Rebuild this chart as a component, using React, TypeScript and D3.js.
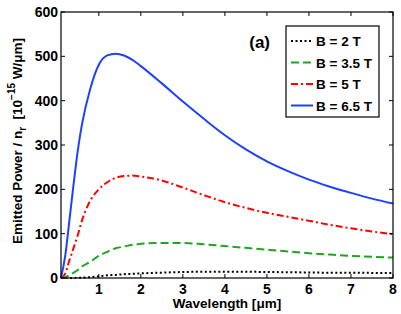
import React, { useEffect, useRef } from "react";
import * as d3 from "d3";

// wavelength grid [um]
const wavelength = [
  0.1, 0.2, 0.3, 0.4, 0.5, 0.6, 0.8, 1.0, 1.2, 1.4, 1.6, 1.8, 2.0, 2.5, 3.0,
  3.5, 4.0, 4.5, 5.0, 5.5, 6.0, 6.5, 7.0, 7.5, 8.0,
];

// emitted power / n_r [1e-15 W/um]
const power2T = [
  0, 0, 0, 0.2, 0.5, 1, 2, 4, 6, 7, 8.5, 9.5, 10.5, 12, 13.5, 14, 14, 14,
  13.5, 13, 12.5, 12, 12, 11.5, 11,
];
const power35T = [
  0, 2, 6, 12, 18, 26, 37, 50, 59, 67, 71, 75, 77, 79, 79, 76, 72, 68, 64, 60,
  56, 53, 50, 48, 46,
];
const power5T = [
  0, 10, 40, 68, 97, 130, 175, 200, 216, 226, 230, 231, 229, 220, 204, 187,
  171, 158, 147, 138, 129, 120, 112, 105, 99,
];
const power65T = [
  0, 50, 130, 212, 288, 347, 428, 481, 502, 506, 502, 492, 478, 439, 398, 359,
  322, 290, 263, 241, 222, 206, 192, 179, 168,
];

const seriesNames = ["B = 2 T", "B = 3.5 T", "B = 5 T", "B = 6.5 T"];
const seriesValues = [power2T, power35T, power5T, power65T];
const seriesColors = ["#000000", "#1fa51f", "#ff0000", "#2040ff"];
const seriesDash = ["2,2.5", "8,4", "7,3,2,3", null];

const xTicks = [1, 2, 3, 4, 5, 6, 7, 8];
const yTicks = [0, 100, 200, 300, 400, 500, 600];

const W = 401;
const H = 314;
const FONT = "'Liberation Sans', Arial, Helvetica, sans-serif";

export default function App() {
  const svgRef = useRef<SVGSVGElement>(null);

  useEffect(() => {
    const svg = d3.select(svgRef.current);
    svg.selectAll("*").remove();

    const left = 61, right = 393, top = 12, bottom = 278;

    const x = d3.scaleLinear().domain([0.1, 8]).range([left, right]);
    const y = d3.scaleLinear().domain([0, 600]).range([bottom, top]);

    svg.append("rect").attr("width", W).attr("height", H).attr("fill", "#fff");

    // curves
    const line = d3
      .line<number>()
      .x((_, i) => x(wavelength[i]))
      .y((d) => y(d))
      .curve(d3.curveMonotoneX);

    seriesValues.forEach((vals, k) => {
      const p = svg
        .append("path")
        .attr("d", line(vals) || "")
        .attr("fill", "none")
        .attr("stroke", seriesColors[k])
        .attr("stroke-width", 2);
      if (seriesDash[k]) p.attr("stroke-dasharray", seriesDash[k] as string);
    });

    // frame with inward ticks
    svg
      .append("rect")
      .attr("x", left)
      .attr("y", top)
      .attr("width", right - left)
      .attr("height", bottom - top)
      .attr("fill", "none")
      .attr("stroke", "#000")
      .attr("stroke-width", 1.2);

    const tickLen = 4;
    xTicks.forEach((t) => {
      const px = x(t);
      svg.append("line").attr("x1", px).attr("x2", px).attr("y1", bottom).attr("y2", bottom - tickLen).attr("stroke", "#000");
      svg.append("line").attr("x1", px).attr("x2", px).attr("y1", top).attr("y2", top + tickLen).attr("stroke", "#000");
      svg
        .append("text")
        .attr("x", px)
        .attr("y", bottom + 16)
        .attr("text-anchor", "middle")
        .attr("font-family", FONT)
        .attr("font-weight", "bold")
        .attr("font-size", 14)
        .text(t);
    });
    yTicks.forEach((t) => {
      const py = y(t);
      svg.append("line").attr("x1", left).attr("x2", left + tickLen).attr("y1", py).attr("y2", py).attr("stroke", "#000");
      svg.append("line").attr("x1", right).attr("x2", right - tickLen).attr("y1", py).attr("y2", py).attr("stroke", "#000");
      svg
        .append("text")
        .attr("x", left - 3)
        .attr("y", py + 5)
        .attr("text-anchor", "end")
        .attr("font-family", FONT)
        .attr("font-weight", "bold")
        .attr("font-size", 14)
        .text(t);
    });

    // axis labels
    const xl = svg
      .append("text")
      .attr("x", (left + right) / 2)
      .attr("y", 308)
      .attr("text-anchor", "middle")
      .attr("font-family", FONT)
      .attr("font-weight", "bold")
      .attr("font-size", 13.5);
    xl.append("tspan").text("Wavelength [");
    xl.append("tspan").text("\u03bc");
    xl.append("tspan").text("m]");

    const yl = svg
      .append("text")
      .attr("transform", `translate(22,141) rotate(-90)`)
      .attr("text-anchor", "middle")
      .attr("font-family", FONT)
      .attr("font-weight", "bold")
      .attr("font-size", 13.5)
      .style("white-space", "pre");
    yl.append("tspan").text("Emitted Power / n");
    yl.append("tspan").attr("font-size", 10).attr("dy", 4).text("r");
    yl.append("tspan").attr("dy", -4).text("  [10");
    yl.append("tspan").attr("font-size", 10).attr("dy", -7).text("\u221215");
    yl.append("tspan").attr("dy", 7).text(" W/\u03bcm]");

    // panel label
    svg
      .append("text")
      .attr("x", 270)
      .attr("y", 48)
      .attr("text-anchor", "end")
      .attr("font-family", FONT)
      .attr("font-weight", "bold")
      .attr("font-size", 17)
      .text("(a)");

    // legend
    const lg = svg.append("g");
    lg.append("rect")
      .attr("x", 286)
      .attr("y", 26)
      .attr("width", 93)
      .attr("height", 91)
      .attr("fill", "#fff")
      .attr("stroke", "#000")
      .attr("stroke-width", 1.2);
    seriesNames.forEach((name, k) => {
      const ly = 41 + k * 21.5;
      const l = lg
        .append("line")
        .attr("x1", 291)
        .attr("x2", 313)
        .attr("y1", ly)
        .attr("y2", ly)
        .attr("stroke", seriesColors[k])
        .attr("stroke-width", 2);
      if (seriesDash[k]) l.attr("stroke-dasharray", seriesDash[k] as string);
      lg.append("text")
        .attr("x", 316)
        .attr("y", ly + 5)
        .attr("font-family", FONT)
        .attr("font-weight", "bold")
        .attr("font-size", 13.5)
        .text(name);
    });
  }, []);

  return (
    <svg
      ref={svgRef}
      width={W}
      height={H}
      style={{ position: "absolute", left: 0, top: 0 }}
    />
  );
}
